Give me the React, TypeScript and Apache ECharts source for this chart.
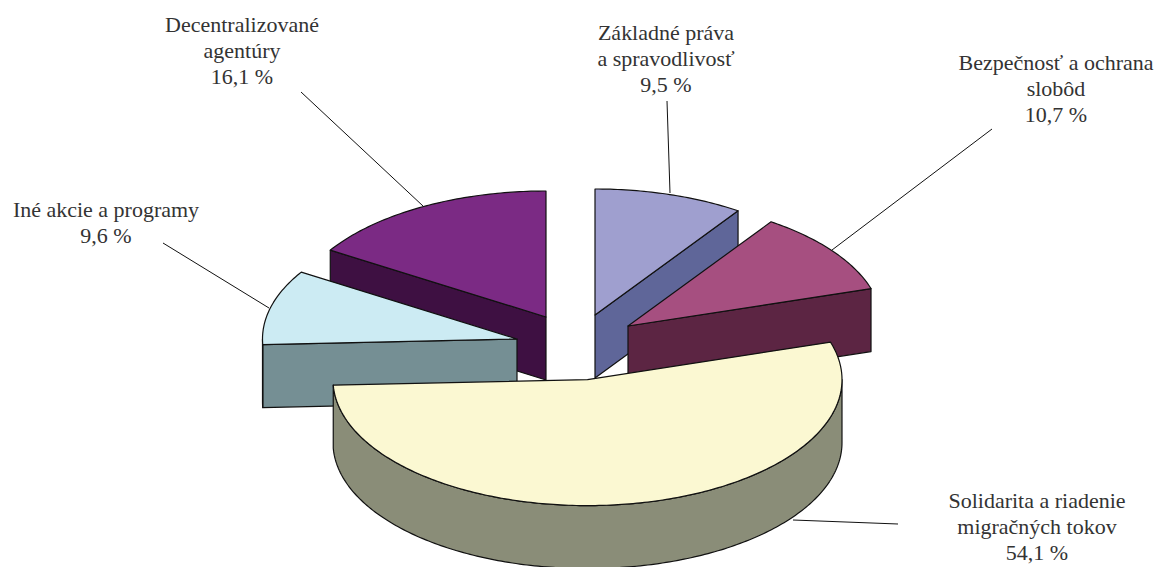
import React, { useEffect, useRef } from "react";
import * as echarts from "echarts";

const categories = [
  ["Základné práva", "a spravodlivosť"],
  ["Bezpečnosť a ochrana", "slobôd"],
  ["Solidarita a riadenie", "migračných tokov"],
  ["Iné akcie a programy"],
  ["Decentralizované", "agentúry"],
];
const shares = [9.5, 10.7, 54.1, 9.6, 16.1];
const topColors = ["#9F9FCF", "#A64F80", "#FBF8D2", "#CCEBF3", "#7B2A84"];
const wallColors = ["#5F6699", "#5C2543", "#8A8D78", "#758F94", "#3E1042"];
// Exploded apex of every slice, in pixels
const apexX = [595, 628, 587.5, 517, 546];
const apexY = [315, 326, 379.6, 339, 317];
const labelX = [666, 1056, 1037, 106, 242];
const labelY = [33, 63, 501, 210, 25];
const leaders = [
  [667, 101, 670, 193],
  [992, 129, 832, 250],
  [793, 520, 898, 524],
  [163, 243, 269, 308],
  [301, 92, 423, 206],
];
const paintOrder = [0, 4, 1, 3, 2];

const RX = 254.5;
const RY = 126;
const DEPTH = 63;
const FONT = "Liberation Serif";
const FONT_SIZE = 20;
const LINE_H = 26;
const TEXT_SCALE = 1.1;
const STROKE = "#111111";

const total = shares.reduce((a, b) => a + b, 0);
const starts: number[] = [];
shares.reduce((acc, v, i) => {
  starts[i] = (acc / total) * Math.PI * 2;
  return acc + v;
}, 0);

function arcPoints(cx: number, cy: number, a0: number, a1: number) {
  const n = Math.max(2, Math.ceil(Math.abs(a1 - a0) / 0.015));
  const pts: number[][] = [];
  for (let k = 0; k <= n; k++) {
    const a = a0 + ((a1 - a0) * k) / n;
    pts.push([cx + RX * Math.sin(a), cy - RY * Math.cos(a)]);
  }
  return pts;
}

function poly(points: number[][], fill: string, lineWidth = 1.2) {
  return {
    type: "polygon",
    shape: { points },
    style: { fill, stroke: STROKE, lineWidth, lineJoin: "round" },
    silent: true,
  };
}

function wall(x: number, y: number, p: number[], fill: string) {
  return poly(
    [
      [x, y],
      p,
      [p[0], p[1] + DEPTH],
      [x, y + DEPTH],
    ],
    fill
  );
}

function renderItem(_params: any, api: any) {
  const i = api.value(0) as number;
  const a0 = starts[i];
  const a1 = a0 + (shares[i] / total) * Math.PI * 2;
  const x = apexX[i];
  const y = apexY[i];
  const children: any[] = [];
  if (Math.sin(a0) < 0) {
    children.push(wall(x, y, [x + RX * Math.sin(a0), y - RY * Math.cos(a0)], wallColors[i]));
  }
  if (Math.sin(a1) > 0) {
    children.push(wall(x, y, [x + RX * Math.sin(a1), y - RY * Math.cos(a1)], wallColors[i]));
  }
  const w0 = Math.max(a0, Math.PI / 2);
  const w1 = Math.min(a1, (Math.PI * 3) / 2);
  if (w1 > w0) {
    const rim = arcPoints(x, y, w0, w1);
    const low = rim.map((p) => [p[0], p[1] + DEPTH]).reverse();
    children.push(poly([...rim, ...low], wallColors[i]));
  }
  children.push(poly([[x, y], ...arcPoints(x, y, a0, a1)], topColors[i]));
  return { type: "group", children };
}

export default function App() {
  const ref = useRef<HTMLDivElement>(null);
  useEffect(() => {
    document.body.style.margin = "0";
    const chart = echarts.init(ref.current!, null, { renderer: "svg" });
    const texts = categories.flatMap((lines, i) =>
      [...lines, `${String(shares[i]).replace(".", ",")} %`].map((t, k) => ({
        type: "text",
        x: labelX[i],
        y: labelY[i] + k * LINE_H,
        scaleX: TEXT_SCALE,
        style: {
          text: t,
          fill: "#333333",
          font: `${FONT_SIZE}px "${FONT}", serif`,
          align: "center",
          verticalAlign: "middle",
        },
      }))
    );
    const lines = leaders.map((l) => ({
      type: "line",
      shape: { x1: l[0], y1: l[1], x2: l[2], y2: l[3] },
      style: { stroke: STROKE, lineWidth: 1 },
      silent: true,
    }));
    chart.setOption({
      animation: false,
      backgroundColor: "#ffffff",
      series: [
        {
          type: "custom",
          coordinateSystem: "none",
          renderItem,
          clip: false,
          data: paintOrder.map((i) => [i, shares[i]]),
          silent: true,
        },
      ],
      graphic: [...lines, ...texts],
    });
    return () => chart.dispose();
  }, []);
  return <div ref={ref} style={{ width: 1160, height: 567 }} />;
}
